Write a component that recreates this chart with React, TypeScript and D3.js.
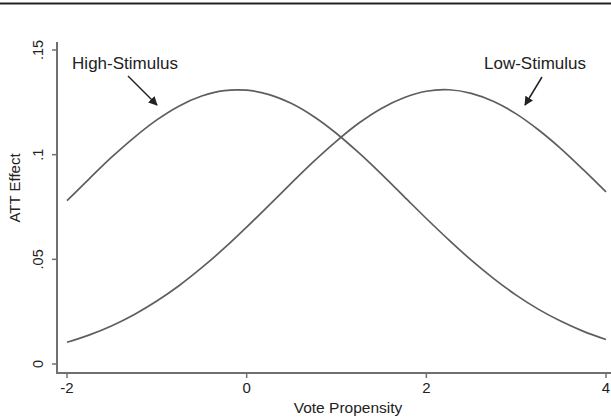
import React from "react";
import * as d3 from "d3";

// Vote propensity grid and estimated ATT effects for each stimulus level
const propensity = [
  -2, -1.75, -1.5, -1.25, -1, -0.75, -0.5, -0.25, 0, 0.25, 0.5, 0.75, 1,
  1.25, 1.5, 1.75, 2, 2.25, 2.5, 2.75, 3, 3.25, 3.5, 3.75, 4,
];
const highStimulus = [
  0.078, 0.0886, 0.0989, 0.1083, 0.1166, 0.1233, 0.128, 0.1306, 0.1308,
  0.1287, 0.1244, 0.1181, 0.1101, 0.1008, 0.0907, 0.0801, 0.0695, 0.0593,
  0.0496, 0.0408, 0.0329, 0.0261, 0.0204, 0.0156, 0.0117,
];
const lowStimulus = [
  0.0104, 0.0139, 0.0183, 0.0237, 0.0301, 0.0375, 0.046, 0.0553, 0.0654,
  0.0759, 0.0865, 0.0969, 0.1065, 0.1151, 0.1221, 0.1272, 0.1303, 0.131,
  0.1293, 0.1254, 0.1195, 0.1118, 0.1028, 0.0927, 0.0822,
];
const xTicks = [-2, 0, 2, 4];
const yTicks = [0, 0.05, 0.1, 0.15];
const yTickLabels = ["0", ".05", ".1", ".15"];

const W = 611;
const H = 419;
const FONT = "'Liberation Sans', Arial, Helvetica, sans-serif";

export default function App() {
  const x = d3.scaleLinear().domain([-2, 4]).range([67, 606]);
  const y = d3.scaleLinear().domain([0, 0.15]).range([364, 50]);
  const axisX = 57;
  const axisY = 373;

  const line = d3
    .line<[number, number]>()
    .x((d) => x(d[0]))
    .y((d) => y(d[1]))
    .curve(d3.curveCatmullRom);

  const highPts = propensity.map((p, i) => [p, highStimulus[i]] as [number, number]);
  const lowPts = propensity.map((p, i) => [p, lowStimulus[i]] as [number, number]);

  const curveColor = "#5e5e5e";
  const axisColor = "#707070";

  return (
    <svg
      width={W}
      height={H}
      style={{ position: "absolute", left: 0, top: 0, background: "#fff" }}
    >
      <defs>
        <marker
          id="arrowHead"
          viewBox="0 0 10 10"
          refX="9"
          refY="5"
          markerWidth="9"
          markerHeight="9"
          markerUnits="userSpaceOnUse"
          orient="auto"
        >
          <path d="M0,0 L10,5 L0,10 z" fill="#222" />
        </marker>
      </defs>
      <rect x={0} y={0} width={W} height={H} fill="#fff" />
      {/* header rule */}
      <line x1={0} x2={W} y1={3.5} y2={3.5} stroke="#222" strokeWidth={2.2} />

      {/* axes */}
      <line x1={axisX} x2={axisX} y1={42} y2={axisY} stroke={axisColor} strokeWidth={2} />
      <line x1={axisX - 1} x2={W} y1={axisY} y2={axisY} stroke={axisColor} strokeWidth={2} />

      {yTicks.map((t, i) => (
        <g key={`y${t}`}>
          <line x1={axisX - 5} x2={axisX} y1={y(t)} y2={y(t)} stroke={axisColor} strokeWidth={1.5} />
          <text
            transform={`translate(${43},${y(t)}) rotate(-90)`}
            textAnchor="middle"
            fontFamily={FONT}
            fontSize={14.5}
            fill="#222"
          >
            {yTickLabels[i]}
          </text>
        </g>
      ))}
      {xTicks.map((t) => (
        <g key={`x${t}`}>
          <line x1={x(t)} x2={x(t)} y1={axisY} y2={axisY + 5} stroke={axisColor} strokeWidth={1.5} />
          <text
            x={x(t)}
            y={axisY + 20}
            textAnchor="middle"
            fontFamily={FONT}
            fontSize={15}
            fill="#222"
          >
            {t}
          </text>
        </g>
      ))}

      <text
        transform={`translate(${20},${188}) rotate(-90)`}
        textAnchor="middle"
        fontFamily={FONT}
        fontSize={15}
        fill="#222"
      >
        ATT Effect
      </text>
      <text
        x={348}
        y={413}
        textAnchor="middle"
        fontFamily={FONT}
        fontSize={15.5}
        fill="#222"
      >
        Vote Propensity
      </text>

      {/* curves */}
      <path d={line(highPts) ?? ""} fill="none" stroke={curveColor} strokeWidth={1.7} />
      <path d={line(lowPts) ?? ""} fill="none" stroke={curveColor} strokeWidth={1.7} />

      {/* annotations */}
      <text x={125} y={69} textAnchor="middle" fontFamily={FONT} fontSize={17} fill="#222">
        High-Stimulus
      </text>
      <line
        x1={128}
        y1={76}
        x2={157}
        y2={105}
        stroke="#222"
        strokeWidth={1.5}
        markerEnd="url(#arrowHead)"
      />
      <text x={535} y={69} textAnchor="middle" fontFamily={FONT} fontSize={17} fill="#222">
        Low-Stimulus
      </text>
      <line
        x1={542}
        y1={77}
        x2={525}
        y2={105}
        stroke="#222"
        strokeWidth={1.5}
        markerEnd="url(#arrowHead)"
      />
    </svg>
  );
}
